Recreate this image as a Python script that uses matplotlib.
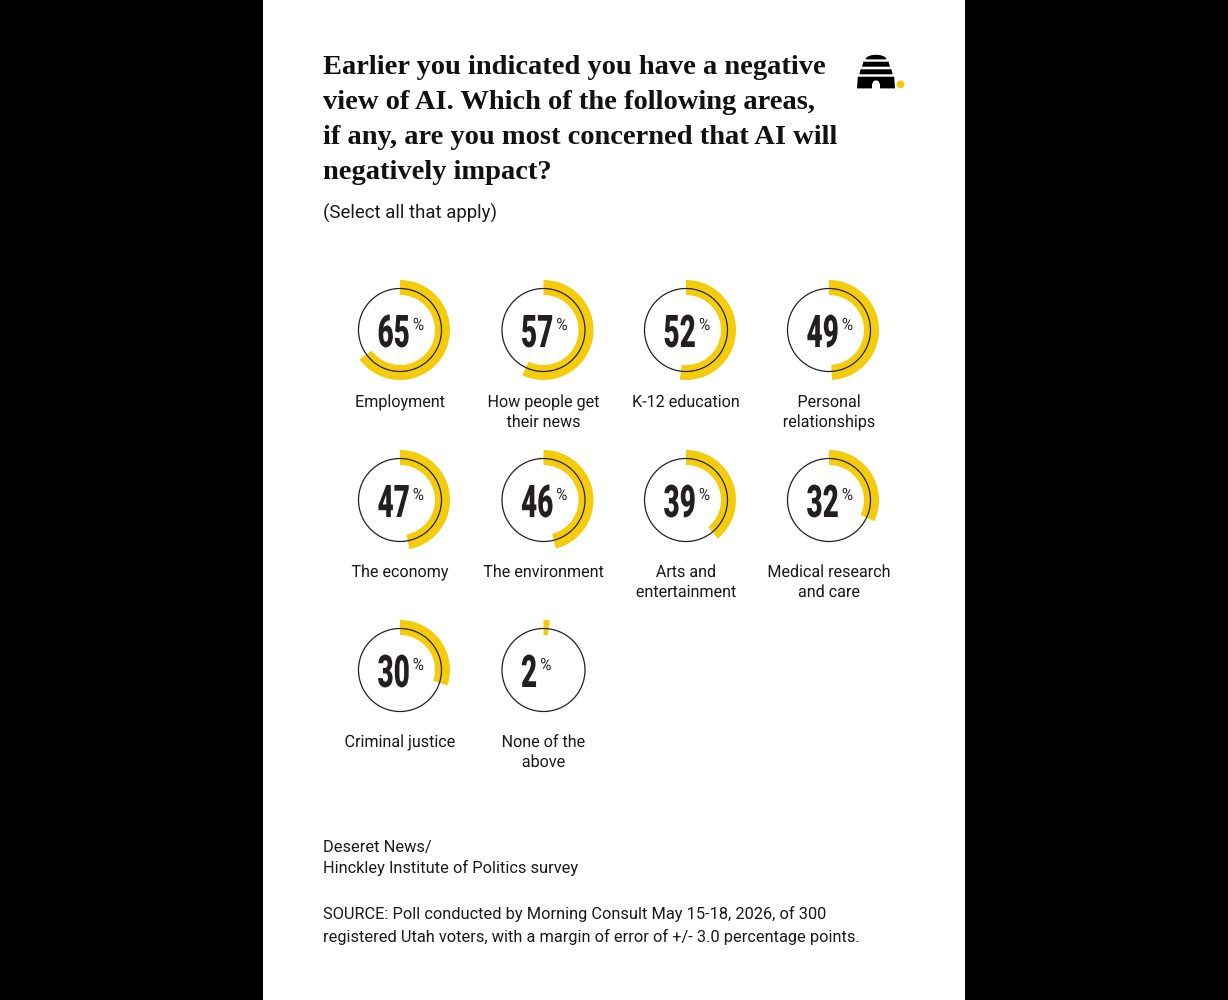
import matplotlib
matplotlib.use("Agg")
import matplotlib.pyplot as plt
from matplotlib.patches import Rectangle, Wedge, Circle, Polygon
from matplotlib.patheffects import AbstractPathEffect
from matplotlib.transforms import Affine2D
import numpy as np

# ---------------- data ----------------
categories = ["Employment", "How people get\ntheir news", "K-12 education",
              "Personal\nrelationships", "The economy", "The environment",
              "Arts and\nentertainment", "Medical research\nand care",
              "Criminal justice", "None of the\nabove"]
values = [65, 57, 52, 49, 47, 46, 39, 32, 30, 2]

title_lines = ["Earlier you indicated you have a negative",
               "view of AI. Which of the following areas,",
               "if any, are you most concerned that AI will",
               "negatively impact?"]
subtitle = "(Select all that apply)"
credit_lines = ["Deseret News/", "Hinckley Institute of Politics survey"]
source_lines = ["SOURCE: Poll conducted by Morning Consult May 15-18, 2026, of 300",
                "registered Utah voters, with a margin of error of +/- 3.0 percentage points."]

YELLOW = "#F4CC0C"
INK = "#1a1a1a"


class Stretch(AbstractPathEffect):
    """Scale glyph outlines around the text origin (baseline, left)."""
    def __init__(self, sx=1.0, sy=1.0):
        super().__init__()
        self.sx = sx
        self.sy = sy

    def draw_path(self, renderer, gc, tpath, affine, rgbFace=None):
        renderer.draw_path(gc, tpath, Affine2D().scale(self.sx, self.sy) + affine, rgbFace)


fig = plt.figure(figsize=(12.28, 10), dpi=100)
fig.patch.set_facecolor("black")
ax = fig.add_axes([0, 0, 1, 1])
ax.set_xlim(0, 1228)
ax.set_ylim(1000, 0)
ax.axis("off")
ax.add_patch(Rectangle((263, 0), 702, 1000, fc="white", ec="none", zorder=0))

# ---------------- title ----------------
for i, line in enumerate(title_lines):
    ax.text(323, 74.5 + 34.7 * i, line, family="Liberation Serif", weight="bold",
            fontsize=20.5, color="#111111", va="baseline", ha="left")
ax.text(323, 219, subtitle, family="Roboto", fontsize=13.4, color=INK,
        va="baseline", ha="left")

# ---------------- logo ----------------
lc = 876
t = np.linspace(np.pi, 0, 30)
dome = [(lc + 10.4 * np.cos(a), 59.4 - 4.6 * np.sin(a)) for a in t]
ax.add_patch(Polygon(dome, closed=True, fc="black", ec="none"))
bands = [(61.7, 66.7, 12.6, 14.0), (69.3, 74.3, 15.4, 16.6), (76.7, 88.4, 18.2, 19.0)]
for y0, y1, h0, h1 in bands:
    ax.add_patch(Polygon([(lc - h0, y0), (lc + h0, y0), (lc + h1, y1), (lc - h1, y1)],
                         closed=True, fc="black", ec="none"))
ax.add_patch(Rectangle((lc - 3.6, 84), 7.2, 4.6, fc="white", ec="none"))
ax.add_patch(Circle((lc, 84), 3.6, fc="white", ec="none"))
ax.add_patch(Circle((900.5, 84.3), 3.9, fc=YELLOW, ec="none"))

# ---------------- rings ----------------
col_x = [400, 543.5, 686, 829]
row_y = [330, 500, 670]
R_OUT, R_IN, R_THIN = 50, 35, 41.5

fig.canvas.draw()
renderer = fig.canvas.get_renderer()

NUM_SY = 1.0 / 0.62
PCT_SY = 1.1
for i, (cat, v) in enumerate(zip(categories, values)):
    cx = col_x[i % 4]
    cy = row_y[i // 4]
    ax.add_patch(Wedge((cx, cy), R_OUT, -90, -90 + 3.6 * v, width=R_OUT - R_IN,
                       fc=YELLOW, ec="none", zorder=2))
    ax.add_patch(Circle((cx, cy), R_THIN, fill=False, ec="#222222", lw=0.9, zorder=3))
    num = ax.text(cx - 22.5, cy + 17, f"{v}", family="Roboto", weight="black",
                  fontsize=32.4 / NUM_SY, color="#231f20", ha="left", va="baseline",
                  zorder=4, path_effects=[Stretch(1.0, NUM_SY)])
    bb = num.get_window_extent(renderer)
    ax.text(cx - 22.5 + bb.width + 3, cy, "%", family="Roboto", fontsize=11,
            color="#231f20", ha="left", va="baseline", zorder=4,
            path_effects=[Stretch(1.0, PCT_SY)])
    for j, ln in enumerate(cat.split("\n")):
        ax.text(cx, cy + 77 + 20 * j, ln, family="Roboto", fontsize=11.6,
                color=INK, ha="center", va="baseline",
                path_effects=[Stretch(1.0, 1.05)])

# ---------------- footer ----------------
for i, ln in enumerate(credit_lines):
    ax.text(323, 852 + 21.5 * i, ln, family="Roboto", fontsize=11.75, color=INK,
            ha="left", va="baseline")
for i, ln in enumerate(source_lines):
    ax.text(323, 919 + 22.7 * i, ln, family="Roboto", fontsize=11.75, color=INK,
            ha="left", va="baseline")

fig.savefig("out.png", dpi=100, facecolor="black")
